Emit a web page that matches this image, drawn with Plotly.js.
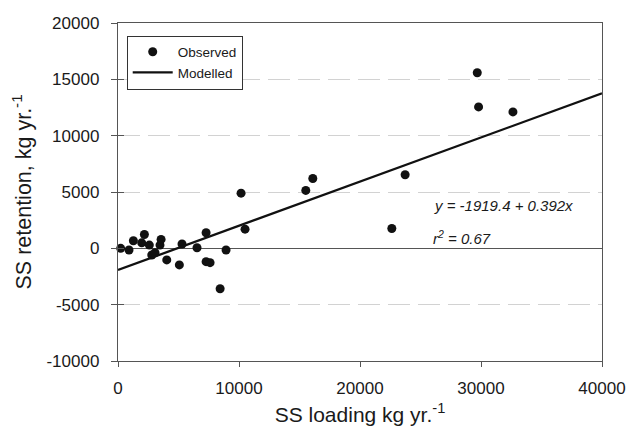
<!DOCTYPE html>
<html>
<head>
<meta charset="utf-8">
<script src="https://cdn.plot.ly/plotly-3.0.1.min.js"></script>
<style>
  html, body { margin: 0; padding: 0; background: #fff; }
  #chart { width: 639px; height: 430px; }
</style>
</head>
<body>
<div id="chart"></div>
<script>
// Observed data (SS loading vs SS retention, kg yr^-1)
const observedLoading = [220, 910, 1270, 1960, 2180, 2590, 2790, 3060, 3470, 3560, 4030, 5070, 5290, 6530, 7280, 7280, 7610, 8440, 8930, 10500, 10170, 15520, 16100, 22630, 23730, 29690, 29800, 32640];
const observedRetention = [0, -150, 670, 490, 1230, 290, -590, -390, 290, 790, -1030, -1470, 380, 50, 1380, -1180, -1270, -3590, -150, 1700, 4900, 5140, 6200, 1760, 6530, 15580, 12550, 12110];

// Modelled regression line end points (y = -1919.4 + 0.392x)
const modelledLoading = [0, 40000];
const modelledRetention = [-1919.4, 13760.6];

// Tick labels
const xTickVals = [0, 10000, 20000, 30000, 40000];
const xTickText = ['0', '10000', '20000', '30000', '40000'];
const yTickVals = [-10000, -5000, 0, 5000, 10000, 15000, 20000];
const yTickText = ['-10000', '-5000', '0', '5000', '10000', '15000', '20000'];

const equationText = 'y = -1919.4 + 0.392x';
const r2Text = 'r<sup>2</sup> = 0.67';

const fontFam = '"Liberation Sans", Arial, Helvetica, sans-serif';

const traces = [
  {
    type: 'scatter', mode: 'markers', name: 'Observed',
    x: observedLoading, y: observedRetention,
    marker: { color: '#111', size: 9 },
    cliponaxis: false
  },
  {
    type: 'scatter', mode: 'lines', name: 'Modelled',
    x: modelledLoading, y: modelledRetention,
    line: { color: '#111', width: 2.3 }
  },
  // empty helper trace so the overlay axis (inner half of the y ticks) is drawn
  {
    type: 'scatter', mode: 'markers', x: [], y: [],
    xaxis: 'x', yaxis: 'y2', showlegend: false, hoverinfo: 'skip'
  }
];

const layout = {
  width: 639, height: 430,
  margin: { l: 118, r: 37, t: 23, b: 69 },
  paper_bgcolor: '#fff', plot_bgcolor: '#fff',
  font: { family: fontFam, color: '#1a1a1a' },
  showlegend: true,
  legend: {
    x: 0.018, y: 0.963, xanchor: 'left', yanchor: 'top',
    bgcolor: '#fff', bordercolor: '#333', borderwidth: 1,
    font: { family: fontFam, size: 13.5, color: '#1a1a1a' },
    itemwidth: 40, tracegroupgap: 0
  },
  xaxis: {
    range: [0, 40000],
    tickvals: xTickVals, ticktext: xTickText,
    ticks: 'outside', ticklen: 5, tickcolor: '#555', tickwidth: 1,
    showline: true, linecolor: '#555', linewidth: 1.2, mirror: true,
    showgrid: false, zeroline: false,
    tickfont: { size: 17, color: '#1a1a1a' },
    ticklabelstandoff: 6,
    title: { text: 'SS loading kg yr.<sup>-1</sup>', font: { size: 21, color: '#1a1a1a' }, standoff: 10 }
  },
  yaxis: {
    range: [-10000, 20000],
    tickvals: yTickVals, ticktext: yTickText,
    ticks: 'outside', ticklen: 6, tickcolor: '#555', tickwidth: 1,
    showline: true, linecolor: '#555', linewidth: 1.2, mirror: true,
    showgrid: true, gridcolor: '#d2d2d2', gridwidth: 1, griddash: '22px,8px',
    zeroline: true, zerolinecolor: '#555', zerolinewidth: 1,
    tickfont: { size: 17, color: '#1a1a1a' },
    ticklabelstandoff: 8,
    title: { text: 'SS retention, kg yr.<sup>-1</sup>\u00a0\u00a0', font: { size: 21.5, color: '#1a1a1a' }, standoff: 9 }
  },
  yaxis2: {
    overlaying: 'y', side: 'left', anchor: 'x',
    range: [-10000, 20000],
    tickvals: yTickVals, showticklabels: false,
    ticks: 'inside', ticklen: 6, tickcolor: '#555', tickwidth: 1,
    showline: false, showgrid: false, zeroline: false
  },
  annotations: [
    { x: 25950, y: 3800, xref: 'x', yref: 'y', xanchor: 'left', yanchor: 'middle',
      text: '<i>' + equationText + '</i>', showarrow: false,
      font: { family: fontFam, size: 15, color: '#1a1a1a' } },
    { x: 25850, y: 1000, xref: 'x', yref: 'y', xanchor: 'left', yanchor: 'middle',
      text: '<i>' + r2Text + '</i>', showarrow: false,
      font: { family: fontFam, size: 15, color: '#1a1a1a' } }
  ]
};

Plotly.newPlot('chart', traces, layout, { displayModeBar: false, staticPlot: true });
</script>
</body>
</html>
